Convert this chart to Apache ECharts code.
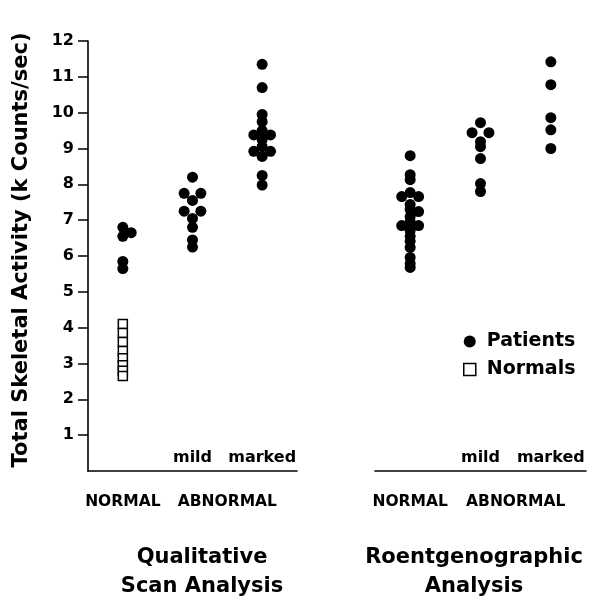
<!DOCTYPE html>
<html><head><meta charset="utf-8">
<script src="https://cdn.jsdelivr.net/npm/echarts@6/dist/echarts.min.js"></script>
<style>html,body{margin:0;padding:0;background:#fff}#c{width:597px;height:601px}</style>
</head><body><div id="c"></div>
<script>
// ---- data ----
const panelTitles = ['Qualitative\nScan Analysis', 'Roentgenographic\nAnalysis'];
const groupLabels = ['NORMAL', 'mild', 'marked'];
const bottomLabels = ['NORMAL', 'ABNORMAL'];
const yTicks = [1,2,3,4,5,6,7,8,9,10,11,12];
const yTitle = 'Total Skeletal Activity (k Counts/sec)';

// Qualitative scan analysis — patients
const qualNormalPatients = [6.8, 6.65, 6.55, 5.85, 5.65];
const qualNormalLanes    = [0, 1, 0, 0, 0];
const qualMildPatients   = [8.2, 7.75, 7.75, 7.55, 7.25, 7.25, 7.05, 6.8, 6.45, 6.25];
const qualMildLanes      = [0, -1, 1, 0, -1, 1, 0, 0, 0, 0];
const qualMarkedPatients = [11.35, 10.7, 9.95, 9.75, 9.5, 9.38, 9.38, 9.25, 9.05, 8.92, 8.92, 8.78, 8.25, 7.98];
const qualMarkedLanes    = [0, 0, 0, 0, 0, -1, 1, 0, 0, -1, 1, 0, 0, 0];
// Qualitative — normals
const qualNormals = [4.1, 3.85, 3.6, 3.35, 3.15, 2.95, 2.8, 2.65];

// Roentgenographic analysis — patients
const roentNormalPatients = [8.8, 8.27, 8.13, 7.77, 7.66, 7.66, 7.44, 7.3, 7.24, 7.1, 6.96, 6.85, 6.85, 6.71, 6.55, 6.41, 6.24, 5.96, 5.79, 5.68];
const roentNormalLanes    = [0, 0, 0, 0, -1, 1, 0, 0, 1, 0, 0, -1, 1, 0, 0, 0, 0, 0, 0, 0];
const roentMildPatients   = [9.72, 9.44, 9.44, 9.19, 9.05, 8.72, 8.02, 7.8];
const roentMildLanes      = [0, -1, 1, 0, 0, 0, 0, 0];
const roentMarkedPatients = [11.42, 10.78, 9.86, 9.52, 9.0];
const roentMarkedLanes    = [0, 0, 0, 0, 0];

// ---- build ----
const LANE = 0.12;
function pts(groupIdx, vals, lanes) {
  return vals.map((v, i) => [groupIdx + 0.5 + (lanes ? lanes[i] : 0) * LANE, v]);
}
const patientsQual = [].concat(
  pts(0, qualNormalPatients, qualNormalLanes),
  pts(1, qualMildPatients, qualMildLanes),
  pts(2, qualMarkedPatients, qualMarkedLanes));
const patientsRoent = [].concat(
  pts(0, roentNormalPatients, roentNormalLanes),
  pts(1, roentMildPatients, roentMildLanes),
  pts(2, roentMarkedPatients, roentMarkedLanes));
const normalsQual = pts(0, qualNormals, null);

const FONT = 'DejaVu Sans';
const grids = [
  {left: 88, width: 209, top: 41, height: 430},
  {left: 375, width: 211, top: 41, height: 430}
];
function xMain(gi) {
  return {
    type: 'value', gridIndex: gi, min: 0, max: 3,
    axisLine: {show: true, onZero: false, lineStyle: {color: '#000', width: 1.6}},
    axisTick: {show: false}, splitLine: {show: false},
    axisLabel: {
      show: true, inside: true, margin: 5, customValues: [1.5, 2.5],
      formatter: v => groupLabels[Math.floor(v)],
      color: '#000', fontFamily: FONT, fontWeight: 'bold', fontSize: 16
    }
  };
}
function xBottom(gi) {
  return {
    type: 'value', gridIndex: gi, min: 0, max: 3, position: 'bottom',
    axisLine: {show: false}, axisTick: {show: false}, splitLine: {show: false},
    axisLabel: {
      show: true, margin: 23, customValues: [0.5, 2],
      formatter: v => (v < 1 ? bottomLabels[0] : bottomLabels[1]),
      color: '#000', fontFamily: FONT, fontWeight: 'bold', fontSize: 15.5
    }
  };
}

const option = {
  animation: false,
  backgroundColor: '#fff',
  grid: grids,
  xAxis: [xMain(0), xMain(1), xBottom(0), xBottom(1)],
  yAxis: [
    {
      type: 'value', gridIndex: 0, min: 0, max: 12,
      name: yTitle, nameLocation: 'middle', nameGap: 56, nameRotate: 90,
      nameTextStyle: {color: '#000', fontFamily: FONT, fontWeight: 'bold', fontSize: 21, padding: [0, 0, 0, 12]},
      axisLine: {show: true, onZero: false, lineStyle: {color: '#000', width: 1.6}},
      axisTick: {show: true, length: 10, customValues: yTicks, lineStyle: {color: '#000', width: 1.5}},
      axisLabel: {show: true, customValues: yTicks, margin: 14, color: '#000', fontFamily: FONT, fontWeight: 'bold', fontSize: 16},
      splitLine: {show: false}
    },
    {type: 'value', gridIndex: 1, min: 0, max: 12, show: false, splitLine: {show: false}}
  ],
  legend: {
    orient: 'vertical', left: 458, top: 327, itemGap: 9,
    itemWidth: 12, itemHeight: 12,
    textStyle: {color: '#000', fontFamily: FONT, fontWeight: 'bold', fontSize: 19, padding: [0, 0, 0, 6]},
    data: [
      {name: 'Patients', icon: 'circle', itemStyle: {color: '#000', opacity: 1}},
      {name: 'Normals', icon: 'rect', itemStyle: {color: '#fff', borderColor: '#000', borderWidth: 1.5, opacity: 1}}
    ]
  },
  graphic: [
    {type: 'text', x: 202, y: 543, style: {text: panelTitles[0], align: 'center', verticalAlign: 'top', lineHeight: 29, fill: '#000', font: 'bold 21px "DejaVu Sans"'}},
    {type: 'text', x: 474, y: 543, style: {text: panelTitles[1], align: 'center', verticalAlign: 'top', lineHeight: 29, fill: '#000', font: 'bold 21px "DejaVu Sans"'}}
  ],
  series: [
    {name: 'Patients', type: 'scatter', xAxisIndex: 0, yAxisIndex: 0, symbol: 'circle', symbolSize: 11,
     itemStyle: {color: '#000', opacity: 1}, data: patientsQual},
    {name: 'Patients', type: 'scatter', xAxisIndex: 1, yAxisIndex: 1, symbol: 'circle', symbolSize: 11,
     itemStyle: {color: '#000', opacity: 1}, data: patientsRoent},
    {name: 'Normals', type: 'scatter', xAxisIndex: 0, yAxisIndex: 0, symbol: 'rect', symbolSize: 9,
     itemStyle: {color: '#fff', borderColor: '#000', borderWidth: 1.5, opacity: 1}, data: normalsQual}
  ]
};
const chart = echarts.init(document.getElementById('c'), null, {renderer: 'canvas'});
chart.setOption(option);
</script></body></html>
